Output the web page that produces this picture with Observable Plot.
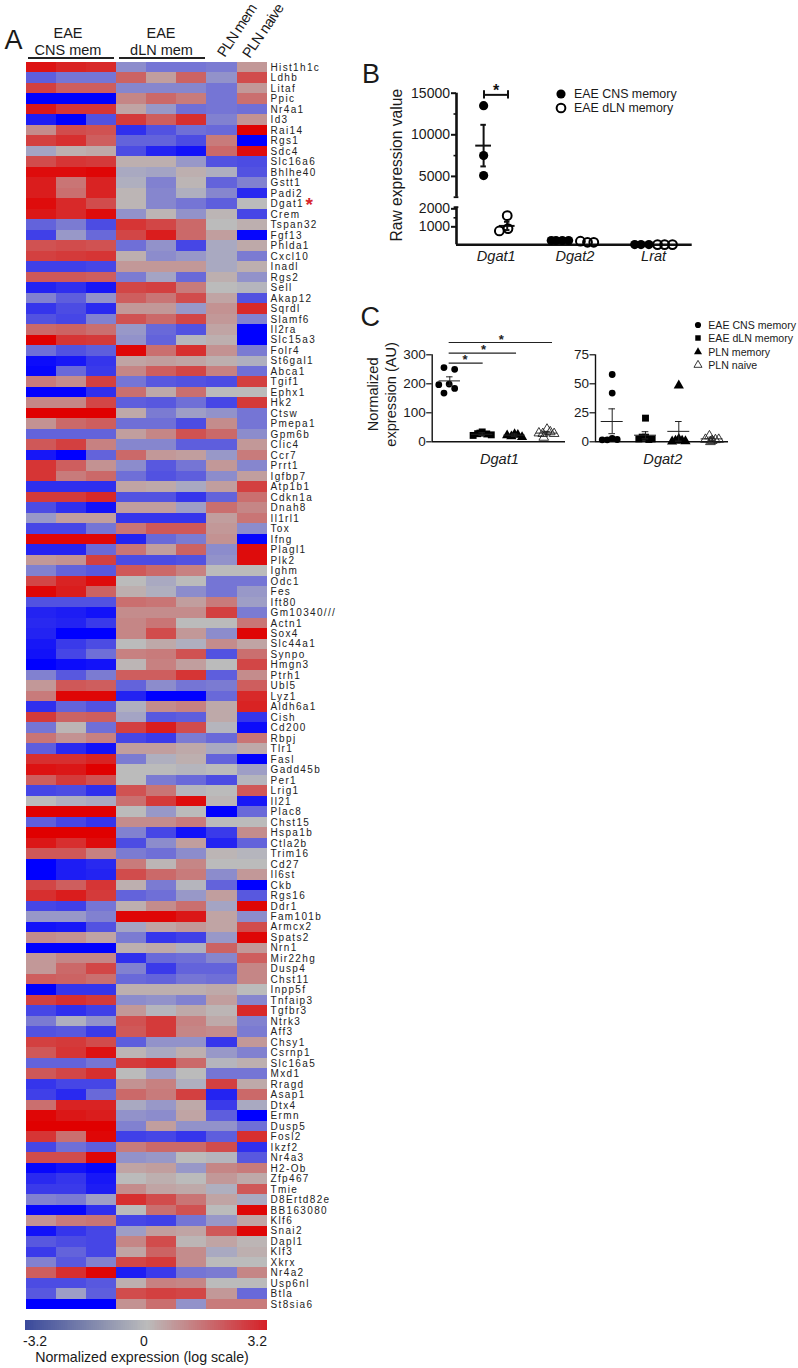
<!DOCTYPE html>
<html><head><meta charset="utf-8">
<script src="https://cdn.jsdelivr.net/npm/d3@7"></script>
<script src="https://cdn.jsdelivr.net/npm/@observablehq/plot@0.6"></script>
<style>
html,body{margin:0;padding:0;background:#fff}
#root{position:relative;width:798px;height:1368px;overflow:hidden;background:#fff;font-family:"Liberation Sans",Arial,sans-serif;color:#1a1a1a}
.t{position:absolute;line-height:1;white-space:nowrap}
svg{display:block}
</style></head><body><div id="root"></div>
<script>
const samples=["CNS1","CNS2","CNS3","dLN1","dLN2","dLN3","PLNmem","PLNnaive"];
const genes=["Hist1h1c","Ldhb","Litaf","Ppic","Nr4a1","Id3","Rai14","Rgs1","Sdc4","Slc16a6","Bhlhe40","Gstt1","Padi2","Dgat1","Crem","Tspan32","Fgf13","Phlda1","Cxcl10","Inadl","Rgs2","Sell","Akap12","Sqrdl","Slamf6","Il2ra","Slc15a3","Folr4","St6gal1","Abca1","Tgif1","Ephx1","Hk2","Ctsw","Pmepa1","Gpm6b","Clic4","Ccr7","Prrt1","Igfbp7","Atp1b1","Cdkn1a","Dnah8","Il1rl1","Tox","Ifng","Plagl1","Plk2","Ighm","Odc1","Fes","Ift80","Gm10340///","Actn1","Sox4","Slc44a1","Synpo","Hmgn3","Ptrh1","Ubl5","Lyz1","Aldh6a1","Cish","Cd200","Rbpj","Tlr1","Fasl","Gadd45b","Per1","Lrig1","Il21","Plac8","Chst15","Hspa1b","Ctla2b","Trim16","Cd27","Il6st","Ckb","Rgs16","Ddr1","Fam101b","Armcx2","Spats2","Nrn1","Mir22hg","Dusp4","Chst11","Inpp5f","Tnfaip3","Tgfbr3","Ntrk3","Aff3","Chsy1","Csrnp1","Slc16a5","Mxd1","Rragd","Asap1","Dtx4","Ermn","Dusp5","Fosl2","Ikzf2","Nr4a3","H2-Ob","Zfp467","Tmie","D8Ertd82e","BB163080","Klf6","Snai2","Dapl1","Klf3","Xkrx","Nr4a2","Usp6nl","Btla","St8sia6"];
const heatValues=[
[2.9,2.6,2.5,-.8,-1.2,-1.2,-1.1,.6],[-1.6,-1.2,-1.2,1.5,.5,1.5,-.7,1.9],[2.1,1.6,1.6,-.9,-.9,-.9,-1.2,.6],[-3.2,-3.2,-3.2,.9,1.4,1.1,-1.2,1.3],
[2.8,2.3,2.3,.4,-.6,-1.3,-1.2,-1.3],[-2.7,-3.2,-1.8,2.2,1.6,2.4,-1,.7],[.8,1.9,1.8,-2.4,-1.8,-1.3,-1.4,3.2],[2.1,2.4,1.6,-1.5,-1.5,-1.9,1.1,-3.2],
[-.4,.2,.3,-1.9,-2.6,-2.9,1.4,3],[1.9,2.3,2.2,.2,.2,-.6,-1.8,-1.9],[3,3,3.1,-.3,-.4,.2,-.2,-1.8],[2.7,1.2,2.6,-.2,-1,.1,-1.5,-1],
[2.7,1.3,2.6,.1,-.9,-.2,-.9,-2.5],[3,2.5,1.9,.1,-.9,-1.2,-1.6,0],[2.8,2.5,3,-.7,.1,-.7,.1,-2],[-1.5,-1.1,-1.9,2.3,2,1.4,0,.2],
[-2.1,-.6,-1.4,2,2.7,1.4,.5,-3.1],[1.8,1.9,1.8,-1.3,-.7,-2,-.3,.3],[2.1,2.2,2.3,.2,-.8,-.6,-.3,-1.1],[-2.1,-2.1,-2,.6,.6,.6,-.3,.2],
[1.7,1.7,1.6,-1.1,-.4,-1.4,.2,-.7],[-2.6,-2.4,-2.8,2,2.1,1.1,0,-.1],[-1,-1.6,-.7,1.6,1.2,1.9,.4,-1.8],[-2.3,-1.9,-2.5,.6,.6,-.6,.7,2.5],
[-1.8,-2,-1,1.8,1.4,2,.6,-1],[1.4,1.5,1.3,-.6,-1.4,-1.8,.4,-3.2],[3.2,2.3,2.2,-.7,-1.5,-.1,.2,-3.2],[-1.3,-1.8,-1.6,3.1,1.3,2.4,.7,-1.1],
[-3,-2.8,-2.3,.4,.5,.4,.2,-.2],[-3.1,-1.4,-2.2,.9,1.6,2,1,-1.3],[1.1,.8,2.1,-1.2,-1.7,-1.8,-1.9,2.1],[-3.2,-3.2,-2.4,1.3,.3,1.3,0,0],
[.9,.9,2,-1.6,-1.7,-1.3,-2,2.2],[3.2,3.2,3.2,.3,-1.1,-.5,-.7,-1.2],[.7,1.4,1.6,-1.3,-1.3,-1.9,.8,-1.2],[-1.5,-1.5,-1.5,.5,.9,1.8,1.4,-.8],
[1.7,2.1,1,-.9,-.9,-1.6,-1.6,.6],[-2.8,-3.2,-1.5,1.4,.6,.5,-.6,1.1],[2.3,1.6,.7,-.8,-1.7,-1.2,.6,-.9],[2.3,1.1,1.4,-1.3,-1.8,-1.6,-.8,.5],
[-2.4,-2.4,-2.4,.4,.3,-.3,.5,2.1],[2.2,2.2,2.5,-1.8,-1.8,-2.3,-1.5,1.3],[-1.9,-2.4,-2.9,.5,.5,-.5,1.3,.9],[-.6,.5,.5,-2.3,-2.3,-2.3,.5,1.2],
[-2,-2,-1.2,1.2,1.7,1.7,.6,-.8],[3.1,3.1,3.1,-2.6,-1.4,-1.1,.7,-3.1],[-2.6,-2.6,-1.4,1.2,.5,1.5,-.8,3],[.6,.7,2.1,-1.9,-1.9,-1.8,-.7,3],
[-1,-1.5,-1.7,1.7,1.4,1,0,0],[2,2.6,3,0,-.3,0,-1.2,-1.2],[3.1,2.7,1.5,.2,-.2,-.8,-1.2,-.6],[-1.8,-1.8,-1.8,1.3,1.2,.5,1.1,-.5],
[-2.6,-2.7,-2.9,.8,.8,.8,2.1,-1.1],[-2.5,-2.6,-2.2,.9,1.2,0,0,1.2],[-2.6,-3.2,-3.2,.9,1.9,.6,-.8,3.1],[-2.8,-2.2,-1.9,0,.3,-.2,.8,.4],
[-2.9,-2,-1.3,1,1.1,1.8,-1.8,1.3],[-3.2,-3,-2.9,.1,1,.5,0,2],[-1,-1.7,-1.1,1.6,1.6,2.3,-1.6,.8],[.6,1.7,1.6,-1.5,-.8,-1.2,-1.1,1.6],
[1.1,3.1,3.1,-2.6,-3.2,-3.2,-1.4,2.5],[-2.4,-1.5,-1.8,-.2,.8,1,.3,2.6],[2.2,1.5,1.6,-.4,-1.7,-1.6,.3,-2.3],[-1.2,.1,-1.3,2.1,2.7,1.9,-.1,-3],
[1.2,.7,1,-2,-2.2,-1.1,-1.4,1.2],[-1.6,-2.5,-2.9,.5,.5,.3,-.3,.3],[2.4,2.4,2.6,-1.1,-.2,.2,-1.5,-3.2],[2.9,2.8,3.2,0,0,-.1,0,-.5],
[1.6,2.2,1.8,0,-1.1,-1.4,-1.9,-.1],[-2,-1.9,-2.4,1.8,1.2,-.1,0,1.7],[0,-.2,-.3,1.3,2.2,3,.1,-2.8],[3.2,3.2,3.2,0,-.6,0,-3.2,-1.4],
[-1.6,-2,-2.3,.8,.8,1.1,0,0],[3.2,3.2,3.2,-1,-2,-2.9,-2.2,.8],[2.8,2.4,3,-1.9,-.8,.5,-2.6,-1.5],[1.7,1.7,1,-1.1,-1.3,-.8,.1,-.1],
[-3.2,-2.7,-2.5,1.1,.1,.9,0,0],[-3.2,-2.7,-2.6,1.9,1.4,1.1,-.8,.6],[2,1.6,2.3,.2,-1.1,-.1,-1.5,-3.2],[2.4,2.7,2.2,-1.5,-1.3,-.6,.5,-1.7],
[-2,-2.1,-1.2,.2,.8,1.3,-.4,3.1],[-.6,-.6,-1,3.1,3.1,2.8,.4,-.8],[-2.9,-2.8,-1.8,-.4,.4,.6,.4,1.9],[.8,.7,.4,-1.1,-2.3,-2.1,-.6,3.1],
[-3.2,-3.2,-3.2,.2,.3,-.2,1.5,.6],[.6,.9,.9,-2.4,-1.4,-1.3,-.9,1.6],[.6,1.4,2,-1,-2.2,-1.5,-1.5,.9],[1.6,1.5,1.3,-1.4,-1.5,-1.2,-1.3,.9],
[-3.2,-2.3,-2.3,.2,.2,.2,.3,0],[2.1,2.4,2.2,-.8,-.7,-1,.5,-.9],[-2,-2.4,-2.1,.6,-.1,.3,.1,2.5],[-1.1,-.2,-.7,1.8,2.2,1,.3,-1],
[-1.8,-1.7,-2.2,1.7,2.2,.9,.8,-1.1],[2.1,2.2,1.9,-1.6,-.7,-.7,-2.3,.6],[1.7,2.3,2.9,.1,-.3,.2,-.6,-1],[-1.5,-1.5,-1.2,2.2,2.4,1.4,-.1,.2],
[1.7,2,2.4,0,-.5,0,-1.2,-1.2],[-2.3,-2,-2,.7,1,-.2,2.1,.3],[-2.1,-2.5,-1.4,1.4,1.1,2.1,-2.6,1.4],[1.3,2.6,2.6,-.3,-.6,.3,-2.2,-.3],
[3.1,2.8,2.7,-.7,-.8,.4,-1.6,-3.2],[3.2,3.2,3.2,-1,.5,-.7,-.7,-1.3],[2.3,1.3,3.1,-2.1,-2,-2.3,-1.6,2.4],[-2,-1.3,-1.6,1.1,1.4,1.4,1.9,-2.4],
[1.9,1.9,3.1,-.7,-.6,0,-.1,-1.7],[-3.1,-2.9,-3.1,.4,.5,-.6,.9,1.1],[-2.5,-2.3,-2.8,0,.2,0,.6,.3],[-2.2,-2.2,-2.7,.8,.4,.3,-.2,1.7],
[-1,-1.1,-.5,2.4,1.9,1.2,.4,-.3],[-3.1,-3.1,-2.4,0,1.3,1.8,0,3.1],[.7,1.1,1.2,-2,-2.1,-1.2,-.6,.4],[-2.9,-2.3,-2,-.5,.5,.4,1.7,3.1],
[-1.7,-1.9,-2,.9,1.9,.1,.4,.1],[-2.2,-1.5,-2,.4,1.5,.8,-.3,.2],[-1,-1.7,-1,2,2.2,.8,0,0],[1.6,2.4,3.1,-2.7,-2.2,-1.2,-1.1,.9],
[-1.9,-1.9,-1.7,.2,1,.9,0,0],[-1.7,-.5,-1.6,1.9,2.1,2,.6,-1.4],[-3.2,-3.2,-3.2,.7,1.3,-.7,1.1,1.1]];
const colorbarTicks=["-3.2","0","3.2"];

const bGenes=["Dgat1","Dgat2","Lrat"];
const bCnsX=[-.16,-.16,-.16, .70,.76,.84,.92, 1.76,1.84,1.94];
const bCnsY=[13500,7500,5100, 240,240,240,240, 15,15,15];
const bDlnX=[.14,.04,.15, 1.07,1.16,1.24, 2.05,2.14,2.24];
const bDlnY=[1620,770,900, 200,140,140, 10,10,10];
const bMeanX=[-.16,.14];
const bMean=[8700,1050];
const bLow=[6200,820];
const bHigh=[11200,1280];
const bTicks=[1000,2000,5000,10000,15000];
const bMinor=[1500,7500,12500];
const bBreak=[2090,2500];

const c1Dgat1X={cns:[-.18,.15,-.34,-.02,.15,-.18],dln:[-.28,-.14,0,.14,.28,-.07],pln:[-.23,-.1,0,.1,.23],nai:[-.25,-.13,-.1,0,.1,.22]};
const c1Dgat1Y={cns:[256,250,197,199,184,168],dln:[22,28,34,27,24,30],pln:[22,19,26,24,16],nai:[30,28,15,43,34,28]};
const c1Mean=[210,26,23,30], c1Low=[195,22,19,24], c1High=[224,31,27,36];
const c2Dgat2X={cns:[0,0,-.3,-.15,0,.15],dln:[0,-.2,-.1,0,.1,.2],pln:[0,-.2,-.1,0,.1,.2],nai:[-.08,-.2,0,.1,.2,-.05]};
const c2Dgat2Y={cns:[58,42,1.7,1.7,3,2],dln:[20.4,2.5,4,4,2,2.5],pln:[48.6,.3,1,2.5,1,.5],nai:[5,2,1,1.7,2,0]};
const c2Mean=[17.5,5.7,9,2.5], c2Low=[7,2.5,.6,1], c2High=[28.4,8.7,17.5,4];
const c1Sig=[{to:1.03,v:271,star:.47},{to:2.06,v:306,star:1.04},{to:3.17,v:342.5,star:1.59}];
const legendB=["EAE CNS memory","EAE dLN memory"];
const legendC=["EAE CNS memory","EAE dLN memory","PLN memory","PLN naive"];

const FONT='"Liberation Sans",Arial,sans-serif';
const root=document.getElementById("root");
function put(fig,left,top){fig.style.position="absolute";fig.style.left=left+"px";fig.style.top=top+"px";fig.style.maxWidth="none";root.append(fig);return fig;}
function label(text,x,y,{size=14,anchor="start",rotate=0,color="#1a1a1a",weight="normal",style="normal",spacing=0}={}){
  const d=document.createElement("div");d.className="t";d.textContent=text;
  d.style.cssText+=`left:${x}px;top:${y-.8465*size}px;font-size:${size}px;color:${color};font-weight:${weight};font-style:${style};letter-spacing:${spacing}px`;
  const tx=anchor==="middle"?"-50%":anchor==="end"?"-100%":"0";
  d.style.transformOrigin="0 84.65%";
  d.style.transform=`rotate(${rotate}deg) translateX(${tx})`;
  root.append(d);return d;
}
function hline(x1,x2,y,h=2,color="#222"){const d=document.createElement("div");d.style.cssText=`position:absolute;left:${x1}px;width:${x2-x1}px;top:${y-h/2}px;height:${h}px;background:${color}`;root.append(d);}

/* Panel A heatmap */
const heatCells=genes.flatMap((g,i)=>samples.map((s,j)=>({gene:g,sample:s,value:heatValues[i][j]})));
put(Plot.plot({
  width:345,height:1315,marginLeft:26,marginRight:78,marginTop:62,marginBottom:5,
  style:{fontFamily:FONT,background:"transparent",overflow:"visible",letterSpacing:"1.35px"},
  x:{domain:samples,range:[26,266.6],padding:0,round:false,axis:null},
  y:{domain:genes,range:[62,1309.4],padding:0,round:false,label:null},
  color:{type:"linear",domain:[-3.2,0,3.2],range:["#0000ff","#bbbbbb","#e00000"]},
  marks:[
    Plot.cell(heatCells,{x:"sample",y:"gene",fill:"value",shapeRendering:"crispEdges"}),
    Plot.axisY({anchor:"right",ticks:genes,tickSize:0,tickPadding:3,fontSize:10,label:null,fill:"#222"})
  ]
}),0,0);
label("*",305.5,211.5,{size:19,color:"#d8262c",weight:"bold"});
label("EAE",68,38.7,{size:14.5,anchor:"middle"});
label("CNS mem",68,55,{size:14.5,anchor:"middle"});
label("EAE",161,38.7,{size:14.5,anchor:"middle"});
label("dLN mem",161.5,55,{size:14.5,anchor:"middle"});
hline(28,114,58);hline(119,205,58);
label("PLN mem",225,58.3,{size:14.5,rotate:-57,spacing:-.7});
label("PLN naive",250,59,{size:14.5,rotate:-56,spacing:-.6});
label("A",4.5,50,{size:27});
label("B",362,84,{size:27});
label("C",360.5,327,{size:27});

/* Colour bar */
put(Plot.plot({
  width:270,height:10,margin:0,
  style:{background:"transparent"},
  x:{type:"linear",domain:[-3.2,3.2],range:[0,242],axis:null},
  y:{axis:null},
  color:{type:"linear",domain:[-3.2,0,3.2],range:["#3b4a9c","#bbbbbb","#d61f26"]},
  marks:[Plot.rect(d3.range(-3.2,3.2,.05),{x1:d=>d,x2:d=>d+.055,y1:0,y2:1,fill:d=>d,shapeRendering:"crispEdges"})]
}),25,1320);
label(colorbarTicks[0],23,1345.7,{size:14});
label(colorbarTicks[1],144,1345.7,{size:14,anchor:"middle"});
label(colorbarTicks[2],267,1345.7,{size:14,anchor:"end"});
label("Normalized expression (log scale)",142,1362.5,{size:14.2,anchor:"middle"});

/* Panel B */
const T=80,L=390;
const bx0=(456-495.7)/78.7,bx1=(691.7-495.7)/78.7;
put(Plot.plot({
  width:320,height:200,marginLeft:66,marginRight:18.3,marginTop:0,marginBottom:35.7,
  style:{fontFamily:FONT,background:"transparent",overflow:"visible"},
  x:{type:"linear",domain:[bx0,bx1],range:[456-L,691.7-L],axis:null},
  y:{type:"linear",domain:[0,2090,2500,15000],range:[244.3-T,206.7-T,196.7-T,92.7-T],axis:null},
  marks:[
    Plot.ruleX([bx0],{y1:0,y2:2090,strokeWidth:2.6,stroke:"#111"}),
    Plot.ruleX([bx0],{y1:2500,y2:15000,strokeWidth:2.6,stroke:"#111"}),
    Plot.ruleY([0],{strokeWidth:2.4,stroke:"#111"}),
    Plot.ruleY(bBreak,{x1:bx0-.03,x2:bx0+.03,strokeWidth:1.8,stroke:"#111"}),
    Plot.axisY({ticks:bMinor,tickSize:2.5,tickFormat:()=>"",strokeWidth:1.6,stroke:"#111"}),
    Plot.axisY({ticks:bTicks,tickSize:5,tickPadding:1.5,tickFormat:d=>String(d),strokeWidth:2,stroke:"#111",fontSize:14,fill:"#1a1a1a",label:null}),
    Plot.axisX({ticks:[0,1,2],tickSize:0,tickPadding:6,tickFormat:i=>bGenes[i],fontSize:14.6,fontStyle:"italic",fill:"#1a1a1a",label:null}),
    Plot.ruleY(bMeanX.map((x,i)=>i),{y:i=>bMean[i],x1:i=>bMeanX[i]-.1,x2:i=>bMeanX[i]+.1,strokeWidth:2,stroke:"#111"}),
    Plot.ruleX(bMeanX.map((x,i)=>i),{x:i=>bMeanX[i],y1:i=>bLow[i],y2:i=>bHigh[i],strokeWidth:2,stroke:"#111"}),
    Plot.ruleY(bMeanX.map((x,i)=>i),{y:i=>bLow[i],x1:i=>bMeanX[i]-.035,x2:i=>bMeanX[i]+.035,strokeWidth:2,stroke:"#111"}),
    Plot.ruleY(bMeanX.map((x,i)=>i),{y:i=>bHigh[i],x1:i=>bMeanX[i]-.035,x2:i=>bMeanX[i]+.035,strokeWidth:2,stroke:"#111"}),
    Plot.dot(bCnsX.map((x,i)=>i),{x:i=>bCnsX[i],y:i=>bCnsY[i],r:4.6,fill:"#000"}),
    Plot.dot(bDlnX.map((x,i)=>i),{x:i=>bDlnX[i],y:i=>bDlnY[i],r:4.4,fill:"none",stroke:"#000",strokeWidth:2}),
    Plot.ruleY([14800],{x1:-.155,x2:.15,strokeWidth:2,stroke:"#111"}),
    Plot.ruleX([-.155,.15],{y1:14300,y2:15300,strokeWidth:2,stroke:"#111"}),
    Plot.text(["*"],{x:0,y:14800,dy:-4,fontSize:16,fontWeight:"bold",fill:"#111"})
  ]
}),L,T);
label("Raw expression value",402,165,{size:15.6,anchor:"middle",rotate:-90});

function legend(names,symbols,x,ys,tx,size){
  names.forEach((n,i)=>{
    const s=document.createElementNS("http://www.w3.org/2000/svg","svg");
    s.setAttribute("width",16);s.setAttribute("height",16);
    s.style.cssText=`position:absolute;left:${x-8}px;top:${ys[i]-8}px`;
    const p=document.createElementNS("http://www.w3.org/2000/svg","path");
    p.setAttribute("d",d3.symbol().type(symbols[i].type).size(symbols[i].size)());
    p.setAttribute("transform","translate(8,8)");
    p.setAttribute("fill",symbols[i].fill);
    if(symbols[i].stroke){p.setAttribute("stroke",symbols[i].stroke);p.setAttribute("stroke-width",symbols[i].sw);}
    s.append(p);root.append(s);
    label(n,tx,ys[i]+size*.36,{size});
  });
}
legend(legendB,[{type:d3.symbolCircle,size:66,fill:"#000"},{type:d3.symbolCircle,size:60,fill:"none",stroke:"#000",sw:2}],560.7,[94.3,108.3],574,12.4);
legend(legendC,[{type:d3.symbolCircle,size:30,fill:"#000"},{type:d3.symbolSquare,size:30,fill:"#000"},{type:d3.symbolTriangle,size:28,fill:"#000"},{type:d3.symbolTriangle,size:28,fill:"none",stroke:"#222",sw:.9}],698.3,[325,338.3,351.7,365],708.3,10.6);

/* Panel C */
const CT=330;
function panelC(cfg){
  const [L2,W,x0px,x1px,cx,spacing,ymax,ticks,geneTick,gene,X,Y,mean,low,high,sig]=cfg;
  const g=p=>(p-cx)/spacing, gs=[0,1,2,3];
  const groups=[["cns","circle",3.4,"#000","none"],["dln","square",3.9,"#000","none"],["pln","triangle",3.8,"#000","none"],["nai","triangle",3.6,"none","#222"]];
  const dots=groups.map(([k,sym,r,f,st],gi)=>Plot.dot(X[k].map((x,i)=>i),{x:i=>gi+X[k][i],y:i=>Y[k][i],symbol:()=>sym,r,fill:f,stroke:st,strokeWidth:.9}));
  const marks=[
    Plot.ruleY([0],{strokeWidth:1.4,stroke:"#111"}),
    Plot.ruleX([g(x0px)],{y1:0,y2:ymax,strokeWidth:1.4,stroke:"#111"}),
    Plot.axisY({ticks,tickSize:5.5,tickPadding:1,fontSize:13.5,fill:"#1a1a1a",strokeWidth:1.2,stroke:"#111",label:null}),
    Plot.axisX({ticks:[geneTick],tickSize:0,tickPadding:12,tickFormat:()=>gene,fontSize:14.6,fontStyle:"italic",fill:"#1a1a1a",label:null}),
    ...dots,
    Plot.ruleY(gs,{y:i=>mean[i],x1:i=>i-.33,x2:i=>i+.33,strokeWidth:1,stroke:"#222"}),
    Plot.ruleX(gs,{y1:i=>low[i],y2:i=>high[i],x:i=>i,strokeWidth:1,stroke:"#222"}),
    Plot.ruleY(gs,{y:i=>low[i],x1:i=>i-.1,x2:i=>i+.1,strokeWidth:1,stroke:"#222"}),
    Plot.ruleY(gs,{y:i=>high[i],x1:i=>i-.1,x2:i=>i+.1,strokeWidth:1,stroke:"#222"})
  ];
  if(sig){
    marks.push(Plot.ruleY(sig,{y:"v",x1:()=>-.02,x2:"to",strokeWidth:1.2,stroke:"#222"}));
    marks.push(Plot.text(sig,{x:"star",y:"v",text:()=>"*",dy:-3,fontSize:13,fontWeight:"bold",fill:"#222"}));
  }
  put(Plot.plot({
    width:W,height:150,marginLeft:x0px-L2,marginRight:L2+W-x1px,marginTop:0,marginBottom:38.7,
    style:{fontFamily:FONT,background:"transparent",overflow:"visible"},
    x:{type:"linear",domain:[g(x0px),g(x1px)],range:[x0px-L2,x1px-L2],axis:null},
    y:{type:"linear",domain:[0,ymax],range:[441.3-CT,354.3-CT],axis:null},
    marks
  }),L2,CT);
}
panelC([395,180,431.7,565,449.3,32.4,300,[0,100,200,300],1.53,"Dgat1",c1Dgat1X,c1Dgat1Y,c1Mean,c1Low,c1High,c1Sig]);
panelC([565,170,595,728,611.7,33.3,75,[0,25,50,75],1.52,"Dgat2",c2Dgat2X,c2Dgat2Y,c2Mean,c2Low,c2High,null]);
label("Normalized",378,394,{size:14.6,anchor:"middle",rotate:-90});
label("expression (AU)",396,394,{size:14.6,anchor:"middle",rotate:-90});
</script></body></html>
